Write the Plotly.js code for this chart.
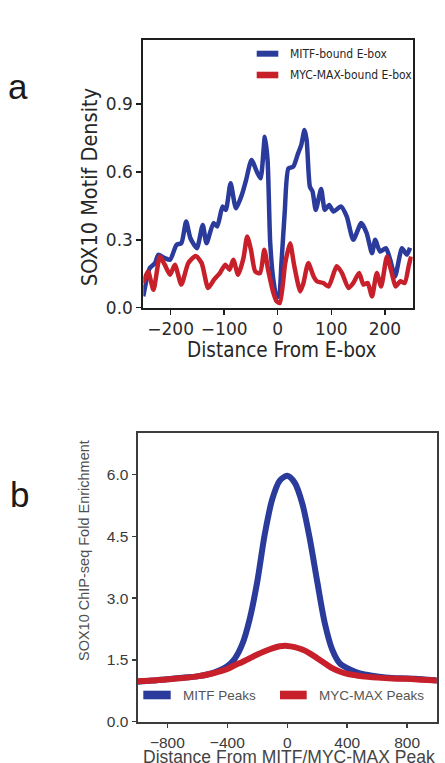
<!DOCTYPE html>
<html>
<head>
<meta charset="utf-8">
<script src="https://cdn.plot.ly/plotly-3.0.1.min.js"></script>
<style>html,body{margin:0;padding:0;background:#fff;}</style>
</head>
<body>
<div id="chart" style="width:445px;height:763px"></div>
<script>
// ---- (a) SOX10 motif density around E-boxes ----
const motifPosMitf = [-251,-239,-229,-223,-211,-201,-189,-180,-171,-163,-151,-140,-133,-120,-113,-103,-97,-88,-78,-67,-59,-49,-39,-32,-24,-19,-14,-8,-2,2,7,13,20,29,38,44,50,54,60,65,71,81,88,96,104,118,129,141,156,166,176,182,191,202,210,219,232,241,247];
const motifMitf    = [0.05,0.175,0.197,0.234,0.219,0.212,0.278,0.285,0.381,0.307,0.263,0.366,0.285,0.374,0.359,0.447,0.432,0.55,0.439,0.499,0.565,0.653,0.601,0.572,0.756,0.653,0.285,0.12,0.05,0.05,0.2,0.42,0.616,0.623,0.682,0.72,0.785,0.741,0.535,0.513,0.432,0.524,0.432,0.454,0.425,0.447,0.402,0.3,0.374,0.33,0.241,0.3,0.248,0.263,0.212,0.138,0.263,0.234,0.265];
const motifPosMyc  = [-251,-242,-232,-220,-211,-201,-192,-180,-167,-153,-142,-130,-119,-108,-98,-90,-83,-74,-64,-57,-50,-42,-33,-25,-18,-8,-2,4,14,23,31,42,48,57,67,73,85,95,110,120,132,141,152,160,168,176,185,193,204,213,220,229,237,245,249];
const motifMyc     = [0.109,0.16,0.079,0.226,0.19,0.146,0.19,0.102,0.197,0.229,0.197,0.087,0.124,0.153,0.19,0.168,0.212,0.146,0.219,0.315,0.256,0.16,0.153,0.256,0.168,0.065,0.028,0.021,0.197,0.285,0.183,0.072,0.109,0.197,0.138,0.117,0.109,0.094,0.183,0.153,0.087,0.109,0.153,0.102,0.109,0.05,0.153,0.094,0.226,0.153,0.094,0.117,0.109,0.19,0.226];
const namesA = ['MITF-bound E-box', 'MYC-MAX-bound E-box'];
const ticksAx = [-200, -100, 0, 100, 200];
const ticksAy = [0, 0.3, 0.6, 0.9];

// ---- (b) SOX10 ChIP-seq fold enrichment around peaks ----
const peakPos    = [-1000,-900,-800,-700,-600,-500,-450,-400,-350,-300,-250,-200,-150,-100,-50,0,50,100,150,200,250,300,350,400,450,500,600,700,800,900,1000];
const enrichMitf = [0.97,1.0,1.03,1.07,1.1,1.18,1.25,1.35,1.53,1.88,2.5,3.4,4.55,5.4,5.85,5.97,5.8,5.3,4.45,3.4,2.4,1.75,1.42,1.3,1.22,1.16,1.1,1.06,1.05,1.03,1.0];
const enrichMyc  = [0.98,1.0,1.03,1.06,1.1,1.17,1.22,1.28,1.37,1.45,1.54,1.63,1.71,1.78,1.83,1.84,1.81,1.75,1.66,1.54,1.42,1.3,1.22,1.16,1.13,1.1,1.07,1.05,1.04,1.02,1.0];
const namesB = ['MITF Peaks', 'MYC-MAX Peaks'];
const ticksBx = [-800, -400, 0, 400, 800];
const ticksBy = [0, 1.5, 3, 4.5, 6];

const W = 445, H = 763;
const fx = p => p / W;          // pixel column -> paper x
const fy = p => 1 - p / H;      // pixel row -> paper y

const BLUE = '#2b3b9c', RED = '#c8202b';
const fontA = 'DejaVu Sans Condensed, DejaVu Sans, sans-serif';
const fontB = 'Liberation Sans, Arial, sans-serif';

const traces = [
  {x: motifPosMitf, y: motifMitf, name: namesA[0], type: 'scatter', mode: 'lines',
   line: {color: BLUE, width: 4.5, shape: 'spline', smoothing: 0.6}, xaxis: 'x', yaxis: 'y'},
  {x: motifPosMyc, y: motifMyc, name: namesA[1], type: 'scatter', mode: 'lines',
   line: {color: RED, width: 4.5, shape: 'spline', smoothing: 0.6}, xaxis: 'x', yaxis: 'y'},
  {x: peakPos, y: enrichMitf, name: namesB[0], type: 'scatter', mode: 'lines',
   line: {color: BLUE, width: 6, shape: 'spline', smoothing: 0.8}, xaxis: 'x2', yaxis: 'y2'},
  {x: peakPos, y: enrichMyc, name: namesB[1], type: 'scatter', mode: 'lines',
   line: {color: RED, width: 6, shape: 'spline', smoothing: 0.8}, xaxis: 'x2', yaxis: 'y2'}
];

const axA = {
  showline: true, mirror: true, linecolor: '#1e1e1e', linewidth: 2,
  ticks: 'outside', ticklen: 5, tickwidth: 1.5, tickcolor: '#1e1e1e',
  showgrid: false, zeroline: false,
  tickfont: {family: 'DejaVu Sans, sans-serif', size: 17, color: '#2a2a2a'}
};
const axB = {
  showline: true, mirror: true, linecolor: '#3c3c3c', linewidth: 2,
  ticks: 'outside', ticklen: 4, tickwidth: 1.5, tickcolor: '#3c3c3c',
  showgrid: false, zeroline: false,
  tickfont: {family: fontB, size: 15.5, color: '#3a3a3a'}
};

const layout = {
  width: W, height: H,
  margin: {l: 0, r: 0, t: 0, b: 0},
  paper_bgcolor: '#fff', plot_bgcolor: '#fff',
  showlegend: false,
  xaxis: Object.assign({}, axA, {domain: [fx(143.3), fx(412.7)], range: [-251, 252],
    tickvals: ticksAx, anchor: 'y'}),
  yaxis: Object.assign({}, axA, {domain: [fy(307.7), fy(40)], range: [0, 1.183],
    tickvals: ticksAy, tickformat: '.1f', anchor: 'x'}),
  xaxis2: Object.assign({}, axB, {domain: [fx(137.5), fx(436.7)], range: [-999, 997],
    tickvals: ticksBx, anchor: 'y2', ticklabelstandoff: 2}),
  yaxis2: Object.assign({}, axB, {domain: [fy(721.7), fy(433.3)], range: [0, 7.0],
    tickvals: ticksBy, tickformat: '.1f', anchor: 'x2'}),
  shapes: [
    // legend swatches, panel a
    {type: 'rect', xref: 'paper', yref: 'paper', x0: fx(256.7), x1: fx(278.3), y0: fy(56.7), y1: fy(50.7),
     fillcolor: BLUE, line: {width: 0}},
    {type: 'rect', xref: 'paper', yref: 'paper', x0: fx(256.7), x1: fx(278.3), y0: fy(78.3), y1: fy(71.7),
     fillcolor: RED, line: {width: 0}},
    // legend swatches, panel b
    {type: 'rect', xref: 'paper', yref: 'paper', x0: fx(143.3), x1: fx(170.7), y0: fy(699.3), y1: fy(690.7),
     fillcolor: BLUE, line: {width: 0}},
    {type: 'rect', xref: 'paper', yref: 'paper', x0: fx(280), x1: fx(306.7), y0: fy(699.3), y1: fy(690.7),
     fillcolor: RED, line: {width: 0}}
  ],
  annotations: [
    // panel letters
    {text: 'a', xref: 'paper', yref: 'paper', x: fx(17.5), y: fy(86), showarrow: false,
     xanchor: 'center', yanchor: 'middle', font: {family: fontB, size: 35, color: '#1a1a1a'}},
    {text: 'b', xref: 'paper', yref: 'paper', x: fx(19), y: fy(494), showarrow: false,
     xanchor: 'center', yanchor: 'middle', font: {family: fontB, size: 35, color: '#1a1a1a'}},
    // axis titles, panel a
    {text: 'Distance From E-box', xref: 'paper', yref: 'paper', x: fx(282), y: fy(350), showarrow: false,
     xanchor: 'center', yanchor: 'middle', font: {family: fontA, size: 20.5, color: '#262626'}},
    {text: 'SOX10 Motif Density', xref: 'paper', yref: 'paper', x: fx(89), y: fy(187), showarrow: false,
     textangle: -90, xanchor: 'center', yanchor: 'middle', font: {family: fontA, size: 21.5, color: '#262626'}},
    // legend labels, panel a
    {text: namesA[0], xref: 'paper', yref: 'paper', x: fx(288), y: fy(53.7), showarrow: false,
     xanchor: 'left', yanchor: 'middle', font: {family: fontA, size: 12, color: '#262626'}},
    {text: namesA[1], xref: 'paper', yref: 'paper', x: fx(288), y: fy(75), showarrow: false,
     xanchor: 'left', yanchor: 'middle', font: {family: fontA, size: 12, color: '#262626'}},
    // axis titles, panel b
    {text: 'Distance From MITF/MYC-MAX Peak', xref: 'paper', yref: 'paper', x: fx(289), y: fy(756.5), showarrow: false,
     xanchor: 'center', yanchor: 'middle', font: {family: fontB, size: 17.5, color: '#444'}},
    {text: 'SOX10 ChIP-seq Fold Enrichment', xref: 'paper', yref: 'paper', x: fx(84), y: fy(551), showarrow: false,
     textangle: -90, xanchor: 'center', yanchor: 'middle', font: {family: fontB, size: 14.5, color: '#505050'}},
    // legend labels, panel b
    {text: namesB[0], xref: 'paper', yref: 'paper', x: fx(181), y: fy(695), showarrow: false,
     xanchor: 'left', yanchor: 'middle', font: {family: fontB, size: 13.5, color: '#555'}},
    {text: namesB[1], xref: 'paper', yref: 'paper', x: fx(317), y: fy(695), showarrow: false,
     xanchor: 'left', yanchor: 'middle', font: {family: fontB, size: 13.5, color: '#555'}}
  ]
};

Plotly.newPlot('chart', traces, layout, {staticPlot: true, displayModeBar: false});
</script>
</body>
</html>
